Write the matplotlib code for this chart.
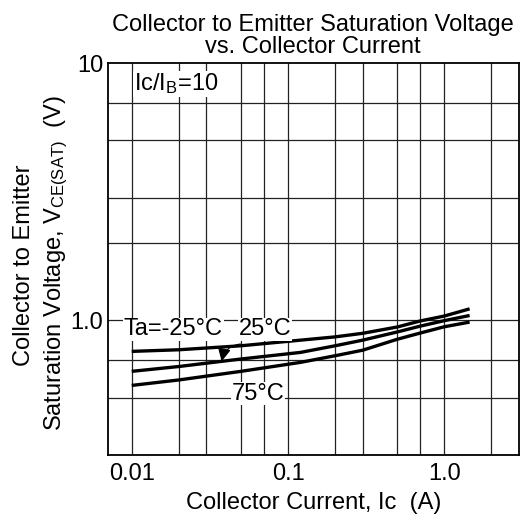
import matplotlib
matplotlib.use("Agg")
import matplotlib.pyplot as plt

plt.rcParams['font.family'] = ['Liberation Sans', 'DejaVu Sans']
plt.rcParams['mathtext.fontset'] = 'custom'
plt.rcParams['mathtext.rm'] = 'Liberation Sans'
plt.rcParams['mathtext.it'] = 'Liberation Sans'

# collector current (A)
ic = [0.01, 0.02, 0.05, 0.12, 0.2, 0.3, 0.5, 0.7, 1.0, 1.45]
# VCE(sat) (V) per ambient temperature
vce_m25 = [0.758, 0.769, 0.797, 0.838, 0.863, 0.891, 0.943, 0.995, 1.040, 1.109]
vce_25 = [0.634, 0.662, 0.708, 0.751, 0.797, 0.838, 0.902, 0.950, 0.998, 1.045]
vce_75 = [0.559, 0.587, 0.634, 0.687, 0.729, 0.766, 0.845, 0.893, 0.945, 0.985]

x_grid = [0.01, 0.02, 0.03, 0.05, 0.07, 0.1, 0.2, 0.3, 0.5, 0.7, 1.0, 2.0]
y_grid = [0.5, 0.7, 1.0, 2.0, 3.0, 5.0, 7.0]
x_ticks = [0.01, 0.1, 1.0]
x_ticklabels = ['0.01', '0.1', '1.0']
y_ticks = [1.0, 10.0]
y_ticklabels = ['1.0', '10']

FS = 17
W = 523
fig = plt.figure(figsize=(5.23, 5.23), dpi=100)
ax = fig.add_axes([107.5 / W, 1 - 455 / W, (519 - 107.5) / W, (455 - 63) / W])
ax.set_xscale('log')
ax.set_yscale('log')
ax.set_xlim(0.007, 3.0)
ax.set_ylim(0.3, 10.0)

for xv in x_grid:
    ax.axvline(xv, color='#222222', lw=0.9, zorder=1)
for yv in y_grid:
    ax.axhline(yv, color='#222222', lw=0.9, zorder=1)

for v in [vce_m25, vce_25, vce_75]:
    ax.plot(ic, v, color='black', lw=2.4, zorder=3, solid_capstyle='butt')

ax.set_xticks(x_ticks)
ax.set_xticklabels(x_ticklabels)
ax.set_yticks(y_ticks)
ax.set_yticklabels(y_ticklabels)
ax.minorticks_off()
ax.tick_params(length=0, labelsize=FS)
ax.tick_params(axis='x', pad=6)
ax.tick_params(axis='y', pad=3)
for s in ax.spines.values():
    s.set_linewidth(1.3)

bb = dict(facecolor='white', edgecolor='none', pad=0.5)
ax.text(0.0103, 8.3, 'Ic/I$_{\\mathrm{B}}$=10', fontsize=FS, va='center', ha='left', bbox=bb, zorder=4)
ax.text(0.0185, 0.923, 'Ta=-25\u00b0C', fontsize=FS, va='center', ha='center', bbox=bb, zorder=4)
ax.text(0.071, 0.923, '25\u00b0C', fontsize=FS, va='center', ha='center', bbox=bb, zorder=4)
ax.text(0.0646, 0.519, '75\u00b0C', fontsize=FS, va='center', ha='center', bbox=bb, zorder=4)
ax.annotate('', xy=(0.0376, 0.693), xytext=(0.0495, 0.81),
            arrowprops=dict(arrowstyle='-|>', color='black', lw=0.8,
                            mutation_scale=20, shrinkA=0, shrinkB=0,
                            connectionstyle='arc3,rad=0.35'), zorder=4)

ax.set_title('Collector to Emitter Saturation Voltage\nvs. Collector Current',
             fontsize=FS, pad=7, linespacing=1.0)
ax.set_xlabel('Collector Current, Ic  (A)', fontsize=FS, labelpad=5)

fig.text(24 / W, 1 - 265 / W, 'Collector to Emitter', rotation=90,
         fontsize=FS, ha='center', va='center')
fig.text(56 / W, 1 - 263 / W, 'Saturation Voltage, V$_{\\mathrm{CE(SAT)}}$  (V)',
         rotation=90, fontsize=FS, ha='center', va='center')

fig.savefig('out.png', dpi=100)
